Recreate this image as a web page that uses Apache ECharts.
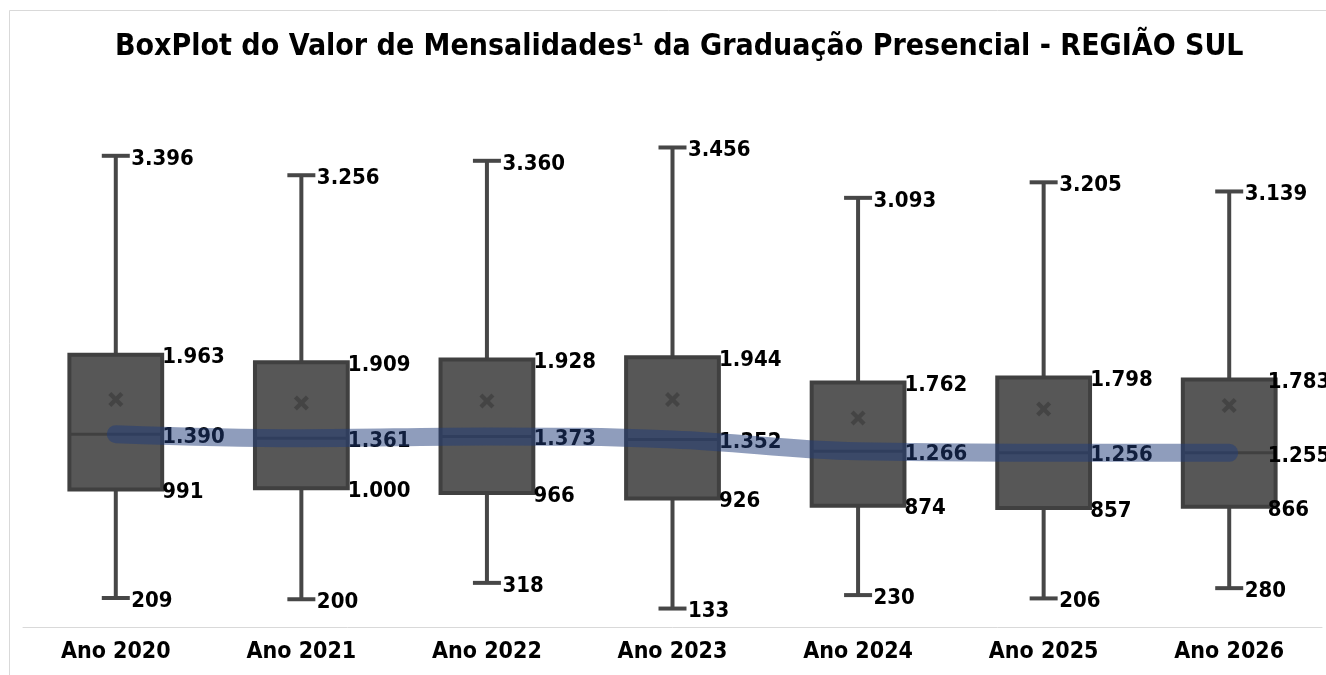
<!DOCTYPE html>
<html>
<head>
<meta charset="utf-8">
<script src="https://cdn.jsdelivr.net/npm/echarts@6/dist/echarts.min.js"></script>
<style>
html,body{margin:0;padding:0;background:#fff;}
#chart{width:1326px;height:675px;}
</style>
</head>
<body>
<div id="chart"></div>
<script>
// Data
const categories = ['Ano 2020','Ano 2021','Ano 2022','Ano 2023','Ano 2024','Ano 2025','Ano 2026'];
const minValues    = [209, 200, 318, 133, 230, 206, 280];
const q1Values     = [991, 1000, 966, 926, 874, 857, 866];
const medianValues = [1390, 1361, 1373, 1352, 1266, 1256, 1255];
const q3Values     = [1963, 1909, 1928, 1944, 1762, 1798, 1783];
const maxValues    = [3396, 3256, 3360, 3456, 3093, 3205, 3139];
const meanValues   = [1639, 1615, 1629, 1639, 1507, 1572, 1596];
const titleText = 'BoxPlot do Valor de Mensalidades¹ da Graduação Presencial - REGIÃO SUL';

const fmt = v => v.toLocaleString('de-DE');

const boxData = categories.map((c, i) => [i, minValues[i], q1Values[i], medianValues[i], q3Values[i], maxValues[i]]);
const whiskerLabelData = [];
const boxLabelData = [];
categories.forEach((c, i) => {
  whiskerLabelData.push([i, maxValues[i]]);
  whiskerLabelData.push([i, minValues[i]]);
  const last = i === categories.length - 1;
  [q3Values[i], medianValues[i], q1Values[i]].forEach(v => {
    boxLabelData.push(last ? {value: [i, v], label: {distance: 38}} : [i, v]);
  });
});

const FONT = 'DejaVu Sans Condensed';
const chart = echarts.init(document.getElementById('chart'), null, {renderer: 'canvas'});

const labelCommon = {
  show: true,
  position: 'right',
  offset: [0, 3],
  formatter: p => fmt(p.value[1]),
  fontFamily: FONT, fontSize: 22, fontWeight: 'bold', color: '#000000', opacity: 1
};

chart.setOption({
  animation: false,
  backgroundColor: '#ffffff',
  title: {
    text: titleText,
    left: 110,
    top: 27,
    textStyle: {fontFamily: FONT, fontSize: 30, fontWeight: 'bold', color: '#000'}
  },
  graphic: [{
    type: 'rect',
    shape: {x: 9.5, y: 10.5, width: 1400, height: 800},
    style: {fill: 'none', stroke: '#d9d9d9', lineWidth: 1},
    silent: true,
    z: -1
  }],
  grid: {left: 23, right: 4, top: 72, bottom: 48, containLabel: false},
  xAxis: {
    type: 'category',
    data: categories,
    axisLine: {show: true, lineStyle: {color: '#d9d9d9', width: 1}},
    axisTick: {show: false},
    axisLabel: {fontFamily: FONT, fontSize: 23, fontWeight: 'bold', color: '#000', margin: 14},
    splitLine: {show: false}
  },
  yAxis: {
    type: 'value',
    min: 0,
    max: 4000,
    show: false,
    splitLine: {show: false}
  },
  series: [
    {
      type: 'custom',
      name: 'box',
      z: 2,
      data: boxData,
      encode: {x: 0, y: [1, 2, 3, 4, 5]},
      renderItem: function (params, api) {
        const idx = api.value(0);
        const pMin = api.coord([idx, api.value(1)]);
        const pQ1 = api.coord([idx, api.value(2)]);
        const pMed = api.coord([idx, api.value(3)]);
        const pQ3 = api.coord([idx, api.value(4)]);
        const pMax = api.coord([idx, api.value(5)]);
        const band = api.size([1, 0])[0];
        const bw = band * 0.5;
        const cap = 14;
        const x = pMed[0];
        const lineStyle = {stroke: '#474747', lineWidth: 4};
        return {
          type: 'group',
          children: [
            {type: 'line', shape: {x1: x, y1: pMax[1], x2: x, y2: pQ3[1]}, style: lineStyle},
            {type: 'line', shape: {x1: x, y1: pQ1[1], x2: x, y2: pMin[1]}, style: lineStyle},
            {type: 'line', shape: {x1: x - cap, y1: pMax[1], x2: x + cap, y2: pMax[1]}, style: lineStyle},
            {type: 'line', shape: {x1: x - cap, y1: pMin[1], x2: x + cap, y2: pMin[1]}, style: lineStyle},
            {type: 'rect', shape: {x: x - bw / 2, y: pQ3[1], width: bw, height: pQ1[1] - pQ3[1]},
              style: {fill: '#575757', stroke: '#404040', lineWidth: 4}},
            {type: 'line', shape: {x1: x - bw / 2, y1: pMed[1], x2: x + bw / 2, y2: pMed[1]},
              style: {stroke: '#404040', lineWidth: 3}}
          ]
        };
      }
    },
    {
      type: 'scatter',
      name: 'mean',
      z: 3,
      data: categories.map((c, i) => [i, meanValues[i]]),
      symbol: 'path://M2,0L5,3L8,0L10,2L7,5L10,8L8,10L5,7L2,10L0,8L3,5L0,2Z',
      symbolSize: 15,
      itemStyle: {color: '#444444', opacity: 1}
    },
    {
      type: 'scatter',
      name: 'whiskerLabels',
      z: 3,
      data: whiskerLabelData,
      symbolSize: 1,
      itemStyle: {color: 'rgba(0,0,0,0)'},
      label: Object.assign({}, labelCommon, {distance: 15})
    },
    {
      type: 'scatter',
      name: 'boxLabels',
      z: 3,
      data: boxLabelData,
      symbolSize: 1,
      itemStyle: {color: 'rgba(0,0,0,0)'},
      label: Object.assign({}, labelCommon, {distance: 46})
    },
    {
      type: 'line',
      name: 'median',
      z: 5,
      data: medianValues,
      smooth: 0.4,
      showSymbol: false,
      symbol: 'none',
      lineStyle: {color: 'rgba(31,59,122,0.5)', width: 18, cap: 'round', join: 'round'}
    }
  ]
});
</script>
</body>
</html>
